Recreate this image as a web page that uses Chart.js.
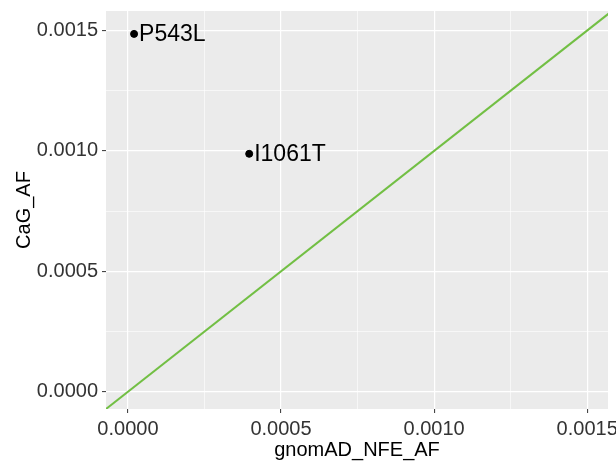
<!DOCTYPE html>
<html>
<head>
<meta charset="utf-8">
<script src="https://cdn.jsdelivr.net/npm/chart.js@4.4.0/dist/chart.umd.min.js"></script>
<style>
  html, body { margin: 0; padding: 0; background: #fff; }
  #wrap { width: 616px; height: 462px; }
</style>
</head>
<body>
<div id="wrap"><canvas id="myChart" width="616" height="462"></canvas></div>
<script>
// variants and their allele frequencies
const variants = ['P543L', 'I1061T'];
const gnomadAF = [0.00002, 0.000396];
const cagAF = [0.001486, 0.000988];

// y = x reference line ends
const refLine = [-0.0001, 0.0016];

// grid / tick positions
const gridValues = [0, 0.00025, 0.0005, 0.00075, 0.001, 0.00125, 0.0015];
const majorTicks = [0, 0.0005, 0.001, 0.0015];

const xRange = [-0.0000717, 0.001568];
const yRange = [-0.0000717, 0.001581];

const isMajor = v => majorTicks.some(m => Math.abs(m - v) < 1e-9);

const panelBg = {
    id: 'panelBg',
    beforeDraw(chart) {
        const a = chart.chartArea;
        const ctx = chart.ctx;
        ctx.save();
        ctx.fillStyle = '#ebebeb';
        ctx.fillRect(a.left, a.top, a.right - a.left, a.bottom - a.top);
        ctx.restore();
    }
};

const pointLabels = {
    id: 'pointLabels',
    afterDatasetsDraw(chart) {
        const ctx = chart.ctx;
        const xs = chart.scales.x, ys = chart.scales.y;
        ctx.save();
        ctx.font = '23px "Liberation Sans", Arial, sans-serif';
        ctx.fillStyle = '#000';
        ctx.textBaseline = 'middle';
        ctx.textAlign = 'left';
        variants.forEach((name, i) => {
            const px = xs.getPixelForValue(gnomadAF[i]);
            const py = ys.getPixelForValue(cagAF[i]);
            ctx.fillText(name, px + 5, py + 1);
        });
        ctx.restore();
    }
};

function axisOpts(range, title, fitSize, isY) {
    return {
        type: 'linear',
        min: range[0],
        max: range[1],
        afterBuildTicks: axis => { axis.ticks = gridValues.map(v => ({ value: v })); },
        afterFit: axis => {
            if (isY) {
                axis.width = fitSize;
                axis.paddingTop = 0;
                axis.paddingBottom = 0;
            } else {
                axis.height = fitSize;
                axis.paddingLeft = 0;
                axis.paddingRight = 0;
            }
        },
        grid: {
            color: '#ffffff',
            lineWidth: ctx => isMajor(ctx.tick.value) ? 1.2 : 0.6,
            tickColor: ctx => isMajor(ctx.tick.value) ? '#333333' : 'rgba(0,0,0,0)',
            tickLength: 4,
            tickWidth: 1
        },
        border: { display: false },
        ticks: {
            autoSkip: false,
            maxRotation: 0,
            color: '#333333',
            padding: 4,
            font: { family: '"Liberation Sans", Arial, sans-serif', size: 20 },
            callback: v => isMajor(v) ? v.toFixed(4) : ''
        },
        title: {
            display: true,
            text: title,
            color: '#000',
            padding: isY ? { top: 12, bottom: 0 } : { top: 0, bottom: 0 },
            font: { family: '"Liberation Sans", Arial, sans-serif', size: 20 }
        }
    };
}

const myChart = new Chart(document.getElementById('myChart'), {
    type: 'scatter',
    data: {
        datasets: [
            {
                label: 'y = x',
                type: 'line',
                data: refLine.map(v => ({ x: v, y: v })),
                borderColor: '#72bf44',
                borderWidth: 2,
                pointRadius: 0,
                fill: false
            },
            {
                label: 'variants',
                data: variants.map((n, i) => ({ x: gnomadAF[i], y: cagAF[i] })),
                backgroundColor: '#000',
                borderColor: '#000',
                pointRadius: 3.5
            }
        ]
    },
    options: {
        responsive: false,
        animation: false,
        layout: { padding: { left: 0, right: 8, top: 11, bottom: 0 } },
        plugins: {
            legend: { display: false },
            tooltip: { enabled: false }
        },
        scales: {
            x: axisOpts(xRange, 'gnomAD_NFE_AF', 53, false),
            y: axisOpts(yRange, 'CaG_AF', 106, true)
        }
    },
    plugins: [panelBg, pointLabels]
});
</script>
</body>
</html>
